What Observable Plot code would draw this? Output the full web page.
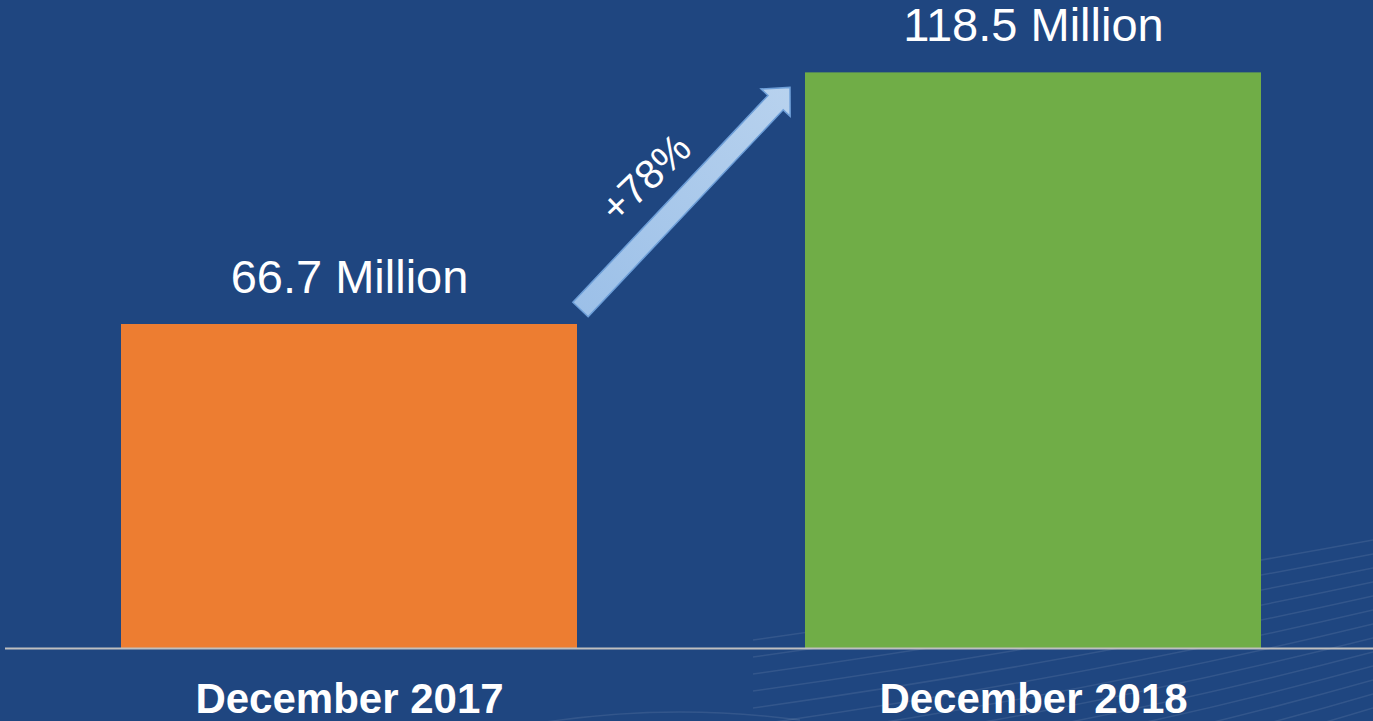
<!DOCTYPE html>
<html>
<head>
<meta charset="utf-8">
<script src="https://cdn.jsdelivr.net/npm/d3@7"></script>
<script src="https://cdn.jsdelivr.net/npm/@observablehq/plot@0.6"></script>
<style>
  html, body { margin: 0; padding: 0; background: #1F4680; overflow: hidden; }
  #chart svg { display: block; }
</style>
</head>
<body>
<div id="chart"></div>
<script>
const categories = ["December 2017", "December 2018"];
const values = [66.7, 118.5];
const barColors = ["#ED7D31", "#70AD47"];
const unitLabel = "Million";

const data = categories.map((c, i) => ({category: c, value: values[i], color: barColors[i]}));
const growth = Math.round((values[1] / values[0] - 1) * 100);

// faint decorative background swooshes (bottom-right of the slide)
function backgroundLines(index, scales, values, dims) {
  const g = d3.create("svg:g").attr("fill", "none").attr("stroke", "white")
    .attr("stroke-opacity", 0.09).attr("stroke-width", 1.5);
  const W = dims.width;
  for (let i = 0; i < 14; i++) {
    const yR = 540 + i * 14, yL = 600 + i * 17;
    g.append("path").attr("d", `M${W - 620},${yL + 40} Q${W - 300},${yL - 5} ${W},${yR}`);
  }
  g.append("path").attr("d", `M500,730 Q650,700 800,720`);
  return g.node();
}

function arrowMark(index, scales) {
  const x = scales.x, y = scales.y;
  const bw = x.bandwidth();
  const sx = x(categories[0]) + bw + 3.5, sy = y(values[0]) - 14.5;
  const tx = x(categories[1]) - 15, ty = y(values[1]) + 15;
  const dx = tx - sx, dy = ty - sy, len = Math.hypot(dx, dy);
  const ux = dx / len, uy = dy / len;
  const px = -uy, py = ux;
  const shaftW = 10.5, headW = 20, headL = 21;
  const bx = tx - ux * headL, by = ty - uy * headL;
  const pts = [
    [sx + px * shaftW, sy + py * shaftW],
    [bx + px * shaftW, by + py * shaftW],
    [bx + px * headW, by + py * headW],
    [tx, ty],
    [bx - px * headW, by - py * headW],
    [bx - px * shaftW, by - py * shaftW],
    [sx - px * shaftW, sy - py * shaftW]
  ];
  const g = d3.create("svg:g");
  const defs = g.append("defs");
  const grad = defs.append("linearGradient").attr("id", "arrowGrad")
    .attr("gradientUnits", "userSpaceOnUse")
    .attr("x1", sx).attr("y1", sy).attr("x2", tx).attr("y2", ty);
  grad.append("stop").attr("offset", "0%").attr("stop-color", "#9CC0E8");
  grad.append("stop").attr("offset", "100%").attr("stop-color", "#B8D2EE");
  g.append("path")
    .attr("d", "M" + pts.map(p => p.join(",")).join("L") + "Z")
    .attr("fill", "url(#arrowGrad)")
    .attr("stroke", "#6E9FD8")
    .attr("stroke-width", 1.5)
    .attr("stroke-linejoin", "miter");
  const mx = (sx + tx) / 2, my = (sy + ty) / 2;
  const angle = Math.atan2(dy, dx) * 180 / Math.PI;
  g.append("text")
    .attr("transform", `translate(${mx - 40},${my - 21}) rotate(${angle + 3})`)
    .attr("text-anchor", "middle")
    .attr("dy", "0.35em")
    .attr("fill", "white")
    .attr("font-size", 41)
    .text(`+${growth}%`);
  return g.node();
}

const chart = Plot.plot({
  width: 1373,
  height: 721,
  marginLeft: 5,
  marginRight: 0,
  marginTop: 0,
  marginBottom: 73,
  style: {background: "#1F4680", color: "white", fontFamily: "'Liberation Sans', Arial, sans-serif", overflow: "visible"},
  x: {domain: categories, paddingInner: 0.3328, paddingOuter: 0.165, align: 0.509, axis: null},
  y: {domain: [0, 133.4], axis: null},
  color: {type: "identity"},
  marks: [
    backgroundLines,
    Plot.barY(data, {x: "category", y: "value", fill: "color"}),
    Plot.ruleY([0], {stroke: "#BFBFBF", strokeWidth: 2}),
    Plot.text(data, {x: "category", y: "value", text: d => `${d.value} ${unitLabel}`, lineAnchor: "bottom", dy: -32, fontSize: 47, fill: "white"}),
    Plot.text(data, {x: "category", y: 0, text: "category", lineAnchor: "bottom", dy: 64, fontSize: 42, fontWeight: "bold", fill: "white"}),
    arrowMark
  ]
});
document.getElementById("chart").appendChild(chart);
</script>
</body>
</html>
